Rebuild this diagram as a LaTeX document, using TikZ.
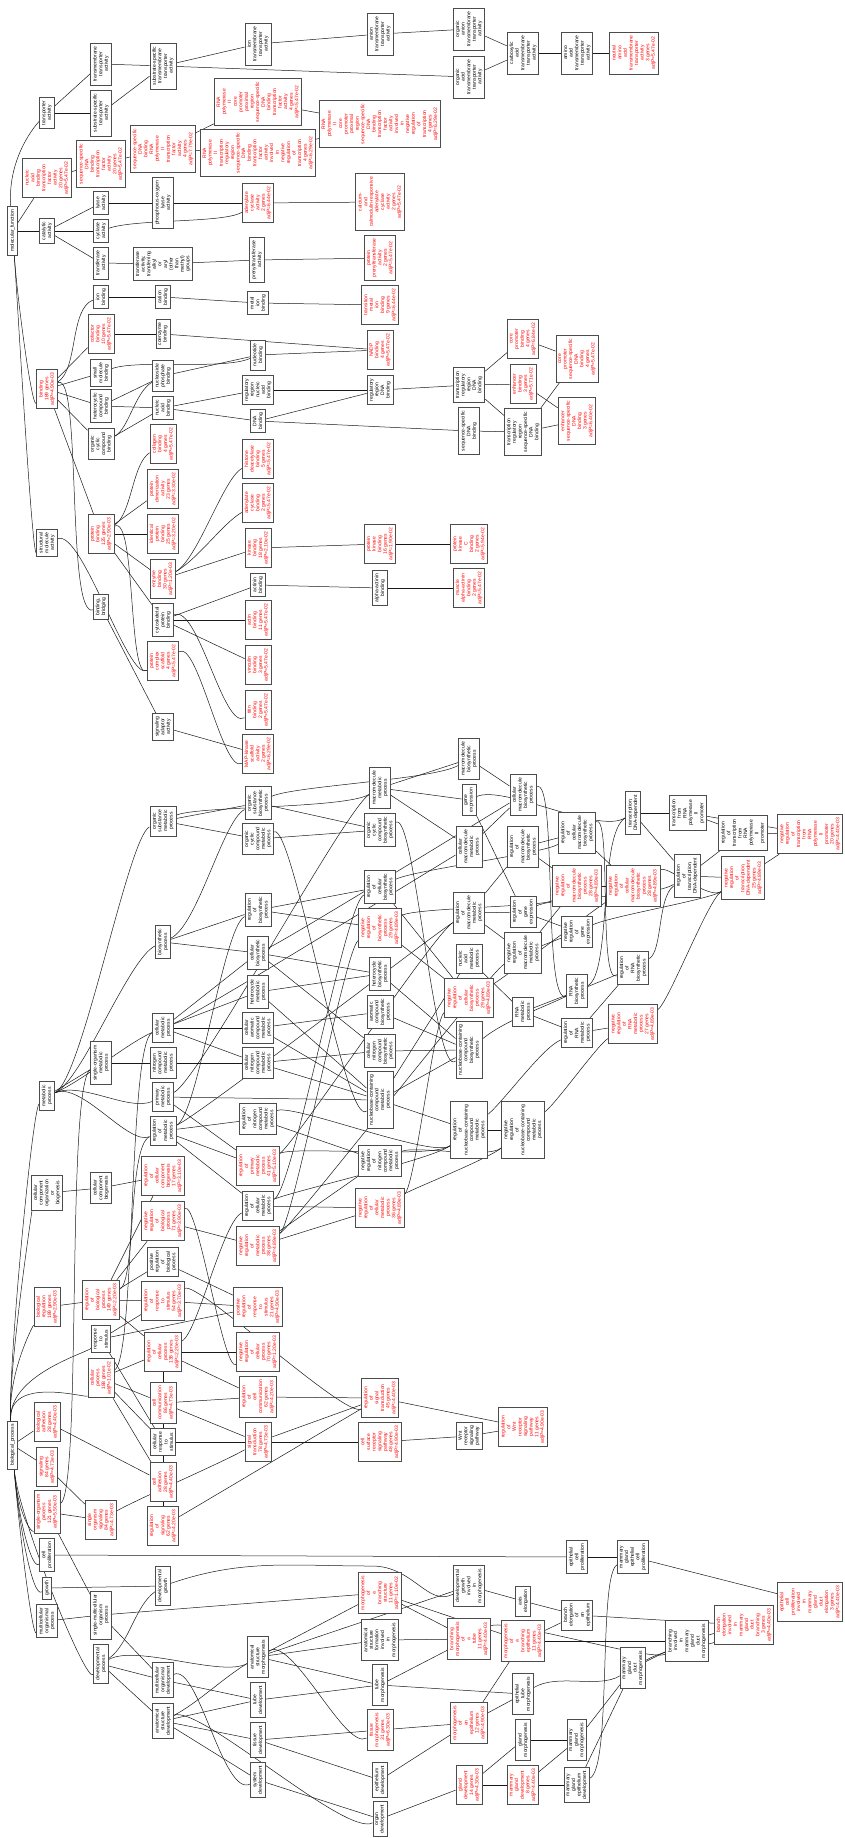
\documentclass[tikz,border=0pt]{standalone}
\usepackage{fontspec}
\setmainfont{Liberation Sans}
\pgfdeclarelayer{bg}
\pgfsetlayers{bg,main}
\newcommand\nfs{\fontsize{5}{5.6}\selectfont}
\tikzset{
 gn/.style={draw=black!70, line width=0.8pt, fill=white, rotate=90, align=center, font=\nfs, inner xsep=3.5pt, inner ysep=2.3pt, text=black},
 rn/.style={gn, text=red},
 ed/.style={line width=0.5pt, black!90},
 cv/.style={out=0, in=180, max distance=35pt},
 vu/.style={out=90, in=180, out distance=70pt, in distance=15pt},
 vd/.style={out=-90, in=180, out distance=70pt, in distance=15pt},
}
\begin{document}
\begin{tikzpicture}[x=1pt,y=-1pt]
\useasboundingbox (0,0) rectangle (844,1838);
% ---------------- molecular function ----------------
\node[gn] (mf) at (12.5,231) {molecular\_function};
\node[gn] (ta) at (47,113) {transporter\\activity};
\node[gn] (tta) at (101,64) {transmembrane\\transporter\\activity};
\node[gn] (sta) at (101,113) {substrate-specific\\transporter\\activity};
\node[gn] (stta) at (163,66) {substrate-specific\\transmembrane\\transporter\\activity};
\node[gn] (ion) at (258,44) {ion\\transmembrane\\transporter\\activity};
\node[gn] (anion) at (380,34) {anion\\transmembrane\\transporter\\activity};
\node[gn] (oan) at (469,29) {organic\\anion\\transmembrane\\transporter\\activity};
\node[gn] (oac) at (469,77) {organic\\acid\\transmembrane\\transporter\\activity};
\node[gn] (carb) at (523,53) {carboxylic\\acid\\transmembrane\\transporter\\activity};
\node[gn] (aa) at (577,53) {amino\\acid\\transmembrane\\transporter\\activity};
\node[rn] (naa) at (634,53) {neutral\\amino\\acid\\transmembrane\\transporter\\activity\\3 genes\\adjP=5.47e-02};
\node[rn] (nabtf) at (47,178) {nucleic\\acid\\binding\\transcription\\factor\\activity\\20 genes\\adjP=5.47e-02};
\node[rn] (ssdtf) at (101,164) {sequence-specific\\DNA\\binding\\transcription\\factor\\activity\\20 genes\\adjP=5.47e-02};
\node[rn] (rnatf) at (163,149) {sequence-specific\\DNA\\binding\\RNA\\polymerase\\II\\transcription\\factor\\activity\\4 genes\\adjP=7.79e-02};
\node[rn] (corep) at (258,102) {RNA\\polymerase\\II\\core\\promoter\\proximal\\region\\sequence-specific\\DNA\\binding\\transcription\\factor\\activity\\4 genes\\adjP=5.47e-02};
\node[rn] (trneg) at (258,153) {RNA\\polymerase\\II\\transcription\\regulatory\\region\\sequence-specific\\DNA\\binding\\transcription\\factor\\activity\\involved\\in\\negative\\regulation\\of\\transcription\\4 genes\\adjP=6.29e-02};
\node[rn] (coreneg) at (380,124) {RNA\\polymerase\\II\\core\\promoter\\proximal\\region\\sequence-specific\\DNA\\binding\\transcription\\factor\\activity\\involved\\in\\negative\\regulation\\of\\transcription\\4 genes\\adjP=6.29e-02};
\node[gn] (cat) at (47,231) {catalytic\\activity};
\node[gn] (lyase) at (101,203) {lyase\\activity};
\node[gn] (cyc) at (101,231) {cyclase\\activity};
\node[gn] (trf) at (101,263) {transferase\\activity};
\node[gn] (pol) at (163,203) {phosphorus-oxygen\\lyase\\activity};
\node[rn] (adc) at (258,203) {adenylate\\cyclase\\activity\\2 genes\\adjP=6.44e-02};
\node[rn] (ccadc) at (380,202) {calcium-\\and\\calmodulin-responsive\\adenylate\\cyclase\\activity\\2 genes\\adjP=5.47e-02};
\node[gn] (trfa) at (163,264) {transferase\\activity,\\transferring\\alkyl\\or\\aryl\\(other\\than\\methyl)\\groups};
\node[gn] (prenyl) at (257,260) {prenyltransferase\\activity};
\node[rn] (pprenyl) at (380,258) {protein\\prenyltransferase\\activity\\2 genes\\adjP=5.47e-02};
\node[gn] (ionb) at (101,297) {ion\\binding};
\node[gn] (cationb) at (163,297) {cation\\binding};
\node[gn] (metalb) at (258,303) {metal\\ion\\binding};
\node[rn] (cab) at (380,305) {transition\\metal\\ion\\binding\\9 genes\\adjP=6.44e-02};
\node[rn] (bind) at (47,389) {binding\\189 genes\\adjP=4.90e-03};
\node[gn] (sma) at (47,543) {structural\\molecule\\activity};
\node[rn] (cofb) at (101,334) {cofactor\\binding\\10 genes\\adjP=5.47e-02};
\node[gn] (coenz) at (163,334) {coenzyme\\binding};
\node[rn] (nadp) at (380,350) {NADP\\binding\\4 genes\\adjP=5.47e-02};
\node[gn] (smb) at (101,373) {small\\molecule\\binding};
\node[gn] (nucb) at (258,355) {nucleotide\\binding};
\node[gn] (npb) at (163,376) {nucleoside\\phosphate\\binding};
\node[gn] (hcb) at (101,406) {heterocyclic\\compound\\binding};
\node[gn] (nab) at (163,408) {nucleic\\acid\\binding};
\node[gn] (rrnab) at (258,390) {regulatory\\region\\nucleic\\acid\\binding};
\node[gn] (rrdna) at (380,390) {regulatory\\region\\DNA\\binding};
\node[gn] (dnab) at (258,421) {DNA\\binding};
\node[gn] (occb) at (101,444) {organic\\cyclic\\compound\\binding};
\node[rn] (collb) at (163,444) {collagen\\binding\\4 genes\\adjP=5.47e-02};
\node[rn] (pdim) at (163,489) {protein\\dimerization\\activity\\23 genes\\adjP=3.30e-02};
\node[rn] (ipb) at (163,534) {identical\\protein\\binding\\25 genes\\adjP=3.20e-02};
\node[rn] (protb) at (101,534) {protein\\binding\\125 genes\\adjP=2.90e-03};
\node[rn] (enzb) at (163,579) {enzyme\\binding\\30 genes\\adjP=1.20e-03};
\node[rn] (hdac) at (258,459) {histone\\deacetylase\\binding\\5 genes\\adjP=5.47e-02};
\node[rn] (adcb) at (258,503) {adenylate\\cyclase\\binding\\2 genes\\adjP=5.47e-02};
\node[rn] (kinb) at (258,548) {kinase\\binding\\18 genes\\adjP=2.10e-02};
\node[rn] (pkb) at (380,544) {protein\\kinase\\binding\\16 genes\\adjP=1.90e-02};
\node[gn] (actinin) at (258,585) {actinin\\binding};
\node[gn] (aactinin) at (380,588) {alpha-actinin\\binding};
\node[rn] (actin) at (258,620) {actin\\binding\\11 genes\\adjP=5.47e-02};
\node[gn] (cpb) at (163,620) {cytoskeletal\\protein\\binding};
\node[gn] (bb) at (101,607) {binding,\\bridging};
\node[gn] (trrdna) at (469,385) {transcription\\regulatory\\region\\DNA\\binding};
\node[rn] (cpbind) at (523,339) {core\\promoter\\binding\\4 genes\\adjP=6.84e-02};
\node[rn] (enhb) at (523,384) {enhancer\\binding\\3 genes\\adjP=5.71e-02};
\node[gn] (ssdna) at (469,431) {sequence-specific\\DNA\\binding};
\node[gn] (trrss) at (523,432) {transcription\\regulatory\\region\\sequence-specific\\DNA\\binding};
\node[rn] (cpss) at (577,359) {core\\promoter\\sequence-specific\\DNA\\binding\\4 genes\\adjP=5.47e-02};
\node[rn] (enhss) at (577,421) {enhancer\\sequence-specific\\DNA\\binding\\3 genes\\adjP=6.40e-02};
\node[rn] (pkcb) at (469,544) {protein\\kinase\\C\\binding\\2 genes\\adjP=5.94e-02};
\node[rn] (maact) at (469,588) {muscle\\alpha-actinin\\binding\\2 genes\\adjP=5.47e-02};
\node[rn] (vinc) at (258,665) {vinculin\\binding\\3 genes\\adjP=5.47e-02};
\node[rn] (pcs) at (163,661) {protein\\complex\\scaffold\\4 genes\\adjP=5.47e-02};
\node[rn] (titin) at (258,710) {titin\\binding\\2 genes\\adjP=5.47e-02};
\node[gn] (saa) at (163,727) {signaling\\adaptor\\activity};
\node[rn] (mapk) at (258,754) {MAP-kinase\\scaffold\\activity\\2 genes\\adjP=6.29e-02};
% ---------------- biological process ----------------
\node[gn] (bp) at (12.5,1445) {biological\_process};
\node[gn] (mp) at (47,1096) {metabolic\\process};
\node[gn] (ccob) at (47,1193) {cellular\\component\\organization\\or\\biogenesis};
\node[rn] (breg) at (47,1307) {biological\\regulation\\189 genes\\adjP=2.90e-03};
\node[rn] (badh) at (47,1422) {biological\\adhesion\\28 genes\\adjP=4.40e-03};
\node[rn] (sig) at (47,1467) {signaling\\84 genes\\adjP=4.73e-03};
\node[rn] (sop) at (47,1512) {single-organism\\process\\121 genes\\adjP=5.50e-03};
\node[gn] (cprol) at (47,1555) {cell\\proliferation};
\node[gn] (growth) at (47,1588) {growth};
\node[gn] (mop) at (47,1621) {multicellular\\organismal\\process};
\node[gn] (somp) at (101,1063) {single-organism\\metabolic\\process};
\node[gn] (ccbio) at (101,1188) {cellular\\component\\biogenesis};
\node[rn] (rbp) at (101,1300) {regulation\\of\\biological\\process\\149 genes\\adjP=2.20e-03};
\node[gn] (rstim) at (101,1339) {response\\to\\stimulus};
\node[rn] (cellp) at (101,1378) {cellular\\process\\188 genes\\adjP=1.01e-02};
\node[rn] (sosig) at (101,1520) {single\\organism\\signaling\\84 genes\\adjP=4.73e-03};
\node[gn] (smop) at (101,1615) {single-multicellular\\organism\\process};
\node[gn] (devp) at (101,1664) {developmental\\process};
\node[gn] (osmp) at (163,821) {organic\\substance\\metabolic\\process};
\node[gn] (biosyn) at (163,942) {biosynthetic\\process};
\node[gn] (cmp) at (163,1028) {cellular\\metabolic\\process};
\node[gn] (ncmp) at (163,1063) {nitrogen\\compound\\metabolic\\process};
\node[gn] (pmp) at (163,1097) {primary\\metabolic\\process};
\node[gn] (rmp) at (163,1131) {regulation\\of\\metabolic\\process};
\node[rn] (rccb) at (163,1176) {regulation\\of\\cellular\\component\\biogenesis\\17 genes\\adjP=3.10e-03};
\node[rn] (nrbp) at (163,1221) {negative\\regulation\\of\\biological\\process\\71 genes\\adjP=3.90e-03};
\node[gn] (prbp) at (163,1262) {positive\\regulation\\of\\biological\\process};
\node[rn] (rrs) at (163,1301) {regulation\\of\\response\\to\\stimulus\\54 genes\\adjP=3.70e-03};
\node[rn] (rcp) at (163,1352) {regulation\\of\\cellular\\process\\138 genes\\adjP=2.20e-03};
\node[rn] (ccomm) at (163,1403) {cell\\communication\\86 genes\\adjP=4.73e-03};
\node[gn] (crs) at (163,1442) {cellular\\response\\to\\stimulus};
\node[rn] (cadh) at (163,1482) {cell\\adhesion\\28 genes\\adjP=4.40e-03};
\node[rn] (rsig) at (163,1526) {regulation\\of\\signaling\\62 genes\\adjP=4.20e-03};
\node[gn] (devg) at (163,1586) {developmental\\growth};
\node[gn] (mod) at (163,1680) {multicellular\\organismal\\development};
\node[gn] (asd) at (163,1721) {anatomical\\structure\\development};
\node[gn] (osbp) at (258,803) {organic\\substance\\biosynthetic\\process};
\node[gn] (occmp) at (258,839) {organic\\cyclic\\compound\\metabolic\\process};
\node[gn] (rbio) at (258,910) {regulation\\of\\biosynthetic\\process};
\node[gn] (cbio) at (258,953) {cellular\\biosynthetic\\process};
\node[gn] (hmp) at (258,992) {heterocycle\\metabolic\\process};
\node[gn] (cacmp) at (258,1028) {cellular\\aromatic\\compound\\metabolic\\process};
\node[gn] (cncmp) at (258,1063) {cellular\\nitrogen\\compound\\metabolic\\process};
\node[gn] (rncmp) at (258,1119) {regulation\\of\\nitrogen\\compound\\metabolic\\process};
\node[rn] (rpmp) at (258,1166) {regulation\\of\\primary\\metabolic\\process\\41 genes\\adjP=5.10e-03};
\node[gn] (rcmp) at (258,1206) {regulation\\of\\cellular\\metabolic\\process};
\node[rn] (nrmp) at (258,1246) {negative\\regulation\\of\\metabolic\\process\\38 genes\\adjP=4.89e-03};
\node[rn] (prrs) at (258,1307) {positive\\regulation\\of\\response\\to\\stimulus\\21 genes\\adjP=4.90e-03};
\node[rn] (nrcp) at (258,1352) {negative\\regulation\\of\\cellular\\process\\70 genes\\adjP=1.20e-03};
\node[rn] (rcc) at (258,1397) {regulation\\of\\cell\\communication\\62 genes\\adjP=4.20e-03};
\node[rn] (st) at (258,1442) {signal\\transduction\\78 genes\\adjP=4.73e-03};
\node[gn] (asm) at (258,1657) {anatomical\\structure\\morphogenesis};
\node[gn] (tubed) at (258,1700) {tube\\development};
\node[gn] (tissd) at (258,1740) {tissue\\development};
\node[gn] (sysd) at (258,1780) {system\\development};
\node[gn] (mmp) at (380,788) {macromolecule\\metabolic\\process};
\node[gn] (occbp) at (380,830) {organic\\cyclic\\compound\\biosynthetic\\process};
\node[gn] (rcbp) at (380,887) {regulation\\of\\cellular\\biosynthetic\\process};
\node[rn] (nrbio) at (380,928) {negative\\regulation\\of\\biosynthetic\\process\\29 genes\\adjP=4.89e-03};
\node[gn] (hbp) at (380,974) {heterocycle\\biosynthetic\\process};
\node[gn] (acbp) at (380,1012) {aromatic\\compound\\biosynthetic\\process};
\node[gn] (cncbp) at (380,1051) {cellular\\nitrogen\\compound\\biosynthetic\\process};
\node[gn] (nbcmp) at (380,1100) {nucleobase-containing\\compound\\metabolic\\process};
\node[gn] (nrncmp) at (380,1161) {negative\\regulation\\of\\nitrogen\\compound\\metabolic\\process};
\node[rn] (nrcmp) at (380,1208) {negative\\regulation\\of\\cellular\\metabolic\\process\\36 genes\\adjP=4.89e-03};
\node[rn] (rst) at (380,1398) {regulation\\of\\signal\\transduction\\45 genes\\adjP=4.40e-03};
\node[rn] (csrsp) at (380,1442) {cell\\surface\\receptor\\signaling\\pathway\\48 genes\\adjP=4.90e-03};
\node[rn] (mbs) at (380,1593) {morphogenesis\\of\\a\\branching\\structure\\11 genes\\adjP=1.10e-02};
\node[gn] (asfm) at (380,1640) {anatomical\\structure\\formation\\involved\\in\\morphogenesis};
\node[gn] (tubem) at (380,1685) {tube\\morphogenesis};
\node[rn] (tissm) at (380,1730) {tissue\\morphogenesis\\31 genes\\adjP=6.30e-03};
\node[gn] (epid) at (380,1780) {epithelium\\development};
\node[gn] (organd) at (380,1819) {organ\\development};
\node[gn] (mbp) at (469,759) {macromolecule\\biosynthetic\\process};
\node[gn] (gexp) at (469,800) {gene\\expression};
\node[gn] (cmmp) at (469,847) {cellular\\macromolecule\\metabolic\\process};
\node[gn] (rmmp) at (469,913) {regulation\\of\\macromolecule\\metabolic\\process};
\node[gn] (namp) at (469,959) {nucleic\\acid\\metabolic\\process};
\node[rn] (nrcbp) at (469,998) {negative\\regulation\\of\\cellular\\biosynthetic\\process\\29 genes\\adjP=4.89e-03};
\node[gn] (nbcbp) at (469,1050) {nucleobase-containing\\compound\\biosynthetic\\process};
\node[gn] (rnbcmp) at (469,1130) {regulation\\of\\nucleobase-containing\\compound\\metabolic\\process};
\node[gn] (wnt) at (469,1436) {Wnt\\receptor\\signaling\\pathway};
\node[gn] (dgim) at (469,1586) {developmental\\growth\\involved\\in\\morphogenesis};
\node[rn] (bmt) at (469,1639) {branching\\morphogenesis\\of\\a\\tube\\11 genes\\adjP=4.40e-03};
\node[rn] (moe) at (469,1723) {morphogenesis\\of\\an\\epithelium\\12 genes\\adjP=4.90e-03};
\node[rn] (glandd) at (469,1785) {gland\\development\\14 genes\\adjP=4.30e-03};
\node[gn] (cmbp) at (523,795) {cellular\\macromolecule\\biosynthetic\\process};
\node[gn] (rmbp) at (523,847) {regulation\\of\\macromolecule\\biosynthetic\\process};
\node[gn] (rge) at (523,912) {regulation\\of\\gene\\expression};
\node[gn] (nrmmp) at (523,953) {negative\\regulation\\of\\macromolecule\\metabolic\\process};
\node[gn] (rnamp) at (523,1012) {RNA\\metabolic\\process};
\node[gn] (nrnbcmp) at (523,1130) {negative\\regulation\\of\\nucleobase-containing\\compound\\metabolic\\process};
\node[rn] (rwnt) at (523,1427) {regulation\\of\\Wnt\\receptor\\signaling\\pathway\\11 genes\\adjP=4.90e-03};
\node[gn] (axis) at (523,1601) {axis\\elongation};
\node[rn] (mbe) at (523,1641) {morphogenesis\\of\\a\\branching\\epithelium\\11 genes\\adjP=4.40e-03};
\node[gn] (etm) at (523,1694) {epithelial\\tube\\morphogenesis};
\node[gn] (glandm) at (523,1740) {gland\\morphogenesis};
\node[rn] (mgd) at (523,1785) {mammary\\gland\\development\\8 genes\\adjP=4.40e-03};
\node[gn] (rcmbp) at (577,833) {regulation\\of\\cellular\\macromolecule\\biosynthetic\\process};
\node[rn] (nrmbp) at (577,886) {negative\\regulation\\of\\macromolecule\\biosynthetic\\process\\28 genes\\adjP=4.89e-03};
\node[gn] (nrge) at (577,932) {negative\\regulation\\of\\gene\\expression};
\node[gn] (rnabp) at (577,991) {RNA\\biosynthetic\\process};
\node[gn] (rrnamp) at (577,1033) {regulation\\of\\RNA\\metabolic\\process};
\node[gn] (ecp) at (577,1557) {epithelial\\cell\\proliferation};
\node[gn] (bee) at (577,1615) {branch\\elongation\\of\\an\\epithelium};
\node[gn] (mgm) at (577,1740) {mammary\\gland\\morphogenesis};
\node[gn] (mged) at (577,1785) {mammary\\gland\\epithelium\\development};
\node[gn] (tdna) at (633,813) {transcription,\\DNA-dependent};
\node[rn] (nrcmbp) at (633,886) {negative\\regulation\\of\\cellular\\macromolecule\\biosynthetic\\process\\28 genes\\adjP=4.89e-03};
\node[gn] (rrnabp) at (633,968) {regulation\\of\\RNA\\biosynthetic\\process};
\node[rn] (nrrnamp) at (633,1024) {negative\\regulation\\of\\RNA\\metabolic\\process\\27 genes\\adjP=4.89e-03};
\node[gn] (mgecp) at (633,1557) {mammary\\gland\\epithelial\\cell\\proliferation};
\node[gn] (mgdm) at (633,1668) {mammary\\gland\\duct\\morphogenesis};
\node[gn] (tpol2) at (688,813) {transcription\\from\\RNA\\polymerase\\II\\promoter};
\node[gn] (rtdna) at (687,876) {regulation\\of\\transcription,\\DNA-dependent};
\node[gn] (bimgdm) at (687,1641) {branching\\involved\\in\\mammary\\gland\\duct\\morphogenesis};
\node[gn] (rtpol2) at (743,833) {regulation\\of\\transcription\\from\\RNA\\polymerase\\II\\promoter};
\node[rn] (nrtdna) at (743,878) {negative\\regulation\\of\\transcription,\\DNA-dependent\\25 genes\\adjP=4.89e-03};
\node[rn] (bemgdb) at (744,1625) {branch\\elongation\\involved\\in\\mammary\\gland\\duct\\branching\\3 genes\\adjP=4.40e-03};
\node[rn] (nrtpol2) at (810,834) {negative\\regulation\\of\\transcription\\from\\RNA\\polymerase\\II\\promoter\\20 genes\\adjP=4.40e-03};
\node[rn] (ecpmgde) at (810,1602) {epithelial\\cell\\proliferation\\involved\\in\\mammary\\gland\\duct\\elongation\\3 genes\\adjP=4.40e-03};
\coordinate (w1) at (372,1566);
% ---------------- edges ----------------
\begin{pgfonlayer}{bg}
\foreach \a/\b in {mf/nabtf, mf/cat,
 ta/tta, ta/sta, tta/stta, sta/stta, stta/ion, ion/anion, anion/oan, oan/carb, oac/carb, carb/aa, aa/naa, stta/oac,
 nabtf/ssdtf, ssdtf/rnatf, rnatf/corep, rnatf/trneg, corep/coreneg, trneg/coreneg,
 cat/lyase, cat/cyc, cat/trf, lyase/pol, pol/adc, adc/ccadc, trf/trfa, trfa/prenyl, prenyl/pprenyl,
 ionb/cationb, cationb/metalb, metalb/cab,
 bind/cofb, bind/smb, bind/hcb, bind/occb, bind/protb,
 cofb/coenz, coenz/nadp, npb/nucb, nucb/nadp, hcb/npb, hcb/nab, occb/nab, nab/rrnab, nab/dnab,
 rrnab/rrdna, dnab/rrdna, dnab/ssdna, rrdna/trrdna, trrdna/cpbind, trrdna/enhb, trrdna/trrss, ssdna/trrss,
 cpbind/cpss, enhb/enhss, trrss/cpss, trrss/enhss,
 protb/pdim, protb/ipb, protb/enzb, protb/cpb, enzb/kinb, kinb/pkb, pkb/pkcb,
 cpb/actinin, cpb/actin, cpb/vinc, actinin/aactinin, aactinin/maact, bb/saa, saa/mapk,
 bp/badh, bp/sig,
 mp/somp, somp/ncmp, osmp/osbp, osmp/occmp, biosyn/cbio, biosyn/rbio,
 cmp/cbio, cmp/hmp, cmp/cacmp, cmp/cncmp, ncmp/cncmp, pmp/nbcmp, pmp/rpmp,
 rmp/rncmp, rmp/rpmp, rmp/rcmp, occmp/occbp, osbp/occbp, cbio/hbp, cbio/cncbp,
 hmp/hbp, hmp/nbcmp, cacmp/acbp, cacmp/nbcmp, cncmp/cncbp, cncmp/nbcmp,
 hbp/nbcbp, acbp/nbcbp, cncbp/nbcbp, mmp/mbp, mmp/gexp, mmp/cmmp,
 nbcmp/namp, nbcmp/nbcbp, nbcmp/rnbcmp, rbio/rcbp, rbio/nrbio, rcmp/nrcmp, rncmp/nrncmp,
 nrmp/nrcmp, nrmp/nrncmp, rcbp/nrcbp, nrbio/nrcbp,
 mbp/cmbp, cmmp/cmbp, gexp/rge, rmmp/rmbp, rmmp/rge, rmmp/nrmmp, namp/rnamp, rnbcmp/nrnbcmp,
 rmbp/rcmbp, rmbp/nrmbp, rge/nrge, nrmmp/nrge, nrmmp/nrmbp, rnamp/rnabp, rnamp/rrnamp,
 rcmbp/nrcmbp, nrmbp/nrcmbp, rnabp/rrnabp, rrnamp/rrnabp, rrnamp/nrrnamp,
 tdna/tpol2, tdna/rtdna, tpol2/rtpol2, tpol2/nrtpol2, rtdna/rtpol2, rtdna/nrtdna, rtpol2/nrtpol2, nrtdna/nrtpol2,
 breg/rbp, rbp/rcp, rbp/rrs, rbp/prbp, rbp/nrbp, rbp/rccb, ccob/ccbio, ccbio/rccb,
 rstim/crs, rstim/rrs, rstim/prrs, cellp/rcp, cellp/ccomm, cellp/crs, cellp/cadh,
 prbp/prrs, nrbp/nrmp, rrs/prrs, rcp/nrcp, rcp/rcc, rcp/rsig, ccomm/rcc, ccomm/st, crs/st,
 badh/cadh, sig/sosig, sop/sosig, sop/smop, rcc/rst, st/csrsp, st/rst, csrsp/wnt, rst/rwnt, wnt/rwnt,
 mop/smop, smop/mod, smop/mbs, devp/mod, devp/asd, growth/devg, cprol/ecp, ecp/mgecp, mgecp/ecpmgde,
 mod/tubed, asd/tubed, asd/tissd, asd/sysd, asm/mbs, asm/asfm, asm/tubem, asm/dgim,
 tubed/tubem, tissd/tissm, tissd/epid, sysd/organd, mbs/bmt, mbs/mbe, asfm/bmt, tubem/bmt, tubem/etm,
 tissm/moe, epid/moe, organd/glandd, dgim/axis, axis/bee, mbe/bee, mbe/bimgdm, moe/etm, moe/mbe,
 glandd/glandm, glandd/mgd, glandm/mgm, mgd/mgm, mgd/mged, mgm/mgdm, mged/mgdm,
 mgdm/bimgdm, bimgdm/bemgdb, bee/bemgdb}
 \draw[ed] (\a) -- (\b);
\foreach \a/\b in {cyc/adc, bind/ionb, bind/bb, smb/nucb, occb/npb, protb/collb, enzb/hdac, enzb/adcb,
 cpb/titin, sma/pcs, protb/pcs, pcs/mapk,
 mp/osmp, mp/biosyn, mp/cmp, mp/pmp, mp/rmp, cellp/cmp, osmp/mmp, biosyn/osbp, cmp/cmmp, pmp/mmp,
 rmp/rbio, rmp/rmmp, occmp/nbcmp, osbp/mbp, cbio/cmbp, occbp/nbcbp, rcmp/rcbp, rcmp/rnbcmp,
 rncmp/rnbcmp, rpmp/rmmp, rpmp/rnbcmp, nrmp/nrbio, nrmp/nrmmp, rcbp/rcmbp, nrbio/nrmbp,
 nrcmp/nrcbp, nrcmp/nrnbcmp, nrncmp/nrnbcmp, gexp/tdna, nrcbp/nrcmbp, nbcbp/rnabp, rnbcmp/rrnamp,
 cmbp/rnabp, rge/rtdna, nrnbcmp/nrrnamp, rcmbp/rrnabp, nrge/nrtdna, rnabp/tdna, nrcmbp/nrtdna,
 rrnabp/rtdna, nrrnamp/nrtdna,
 rbp/rmp, nrbp/nrcp, rrs/rst, rcp/rcmp, sop/somp, sosig/st, rsig/rst,
 devp/devg, devp/asm, mod/sysd, asd/asm, asd/organd, asm/tissm, bmt/bimgdm, etm/mgdm,
 mged/mgecp, mgdm/bemgdb}
 \draw[ed] (\a) to[cv] (\b);
\foreach \a/\b in {mf/ta, bp/mp, bp/ccob, bp/breg, bp/rstim, bp/cellp}
 \draw[ed] (\a) to[vu] (\b);
\foreach \a/\b in {mf/bind, mf/sma, bp/sop, bp/cprol, bp/growth, bp/mop, bp/devp}
 \draw[ed] (\a) to[vd] (\b);
\draw[ed] (devg) to[out=5,in=180] (w1) to[out=0,in=180] (dgim);
\end{pgfonlayer}
\end{tikzpicture}
\end{document}
